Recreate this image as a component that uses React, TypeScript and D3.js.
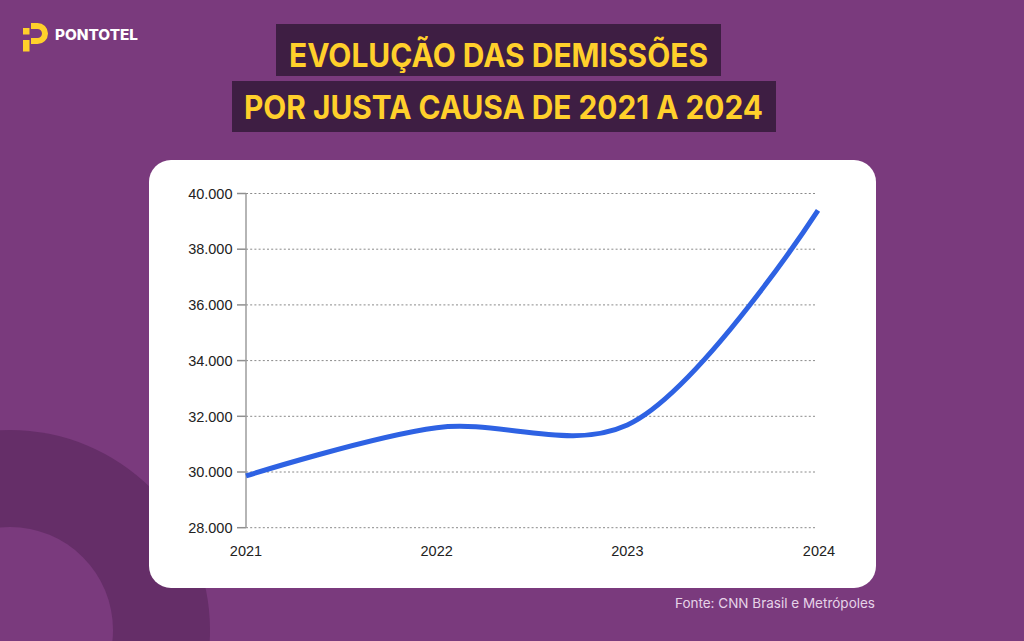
import React from "react";
import * as d3 from "d3";

const years = ["2021", "2022", "2023", "2024"];
const dismissals = [29860, 31590, 31690, 39390];
const yTicks = [28000, 30000, 32000, 34000, 36000, 38000, 40000];
const titleLines = ["EVOLUÇÃO DAS DEMISSÕES", "POR JUSTA CAUSA DE 2021 A 2024"];
const brand = "PONTOTEL";
const sourceText = "Fonte: CNN Brasil e Metrópoles";

const W = 1024;
const H = 641;

const ptBR = d3.formatLocale({ decimal: ",", thousands: ".", grouping: [3], currency: ["R$", ""] });
const fmt = ptBR.format(",.0f");

export default function App() {
  const x = d3.scalePoint<string>().domain(years).range([246, 818]);
  const y = d3.scaleLinear().domain([28000, 40000]).range([527.7, 193.5]);
  const pts = years.map((yr, i) => [x(yr) as number, y(dismissals[i])] as [number, number]);
  const line = d3.line().curve(d3.curveCatmullRom.alpha(0.5))(pts) || "";

  const bg = "#7a3a7d";
  const ring = "#652e68";
  const yellow = "#ffd02b";
  const boxFill = "#3e1e43";

  return (
    <svg width={W} height={H} style={{ position: "absolute", left: 0, top: 0 }}>
      <rect x={0} y={0} width={W} height={H} fill={bg} />
      {/* decorative ring */}
      <circle cx={10} cy={630} r={200} fill={ring} />
      <circle cx={10} cy={630} r={103} fill={bg} />

      {/* logo */}
      <g fill={yellow}>
        <rect x={23} y={28} width={6.5} height={6.5} />
        <rect x={23} y={40} width={6.5} height={11.5} />
        <path d="M31,26 H37.5 A7.5,7.5 0 0 1 37.5,41 H31" fill="none" stroke={yellow} strokeWidth={6} />
      </g>
      <text x={55} y={39.5} fill="#ffffff" fontFamily="Inter, sans-serif" fontWeight={800} fontSize={15}
        textLength={83} lengthAdjust="spacingAndGlyphs">{brand}</text>

      {/* title */}
      <rect x={276} y={24} width={445} height={52} fill={boxFill} />
      <rect x={232} y={81} width={544} height={51} fill={boxFill} />
      <text x={289} y={66.7} fill={yellow} fontFamily="Inter, sans-serif" fontWeight={700} fontSize={32}
        textLength={419} lengthAdjust="spacingAndGlyphs">{titleLines[0]}</text>
      <text x={244} y={119.3} fill={yellow} fontFamily="Inter, sans-serif" fontWeight={700} fontSize={32}
        textLength={519} lengthAdjust="spacingAndGlyphs">{titleLines[1]}</text>

      {/* card */}
      <rect x={149} y={160} width={727} height={428} rx={22} ry={22} fill="#ffffff" />

      {/* grid + y ticks */}
      {yTicks.map((t) => (
        <g key={t}>
          <line x1={246} x2={816} y1={y(t)} y2={y(t)} stroke="#8a8a8a" strokeWidth={1} strokeDasharray="2,2.2" />
          <line x1={237} x2={246} y1={y(t)} y2={y(t)} stroke="#8f8f8f" strokeWidth={1.5} />
          <text x={232.5} y={y(t)} dy="0.36em" textAnchor="end" fill="#222" fontFamily="'Liberation Sans', Arial, sans-serif" fontSize={14.5}>
            {fmt(t)}
          </text>
        </g>
      ))}
      <line x1={246} x2={246} y1={y(40000)} y2={y(28000)} stroke="#9d9d9d" strokeWidth={1.5} />

      {/* x labels */}
      {years.map((yr) => (
        <text key={yr} x={(x(yr) as number) + (yr === "2024" ? 1 : 0)} y={556} textAnchor="middle" fill="#222"
          fontFamily="'Liberation Sans', Arial, sans-serif" fontSize={14.5}>{yr}</text>
      ))}

      {/* series line */}
      <path d={line} fill="none" stroke="#2e62e3" strokeWidth={5} />

      {/* source */}
      <text x={875} y={608.3} textAnchor="end" fill="#e6d3e8" fontFamily="Inter, sans-serif" fontSize={13.5}>{sourceText}</text>
    </svg>
  );
}
